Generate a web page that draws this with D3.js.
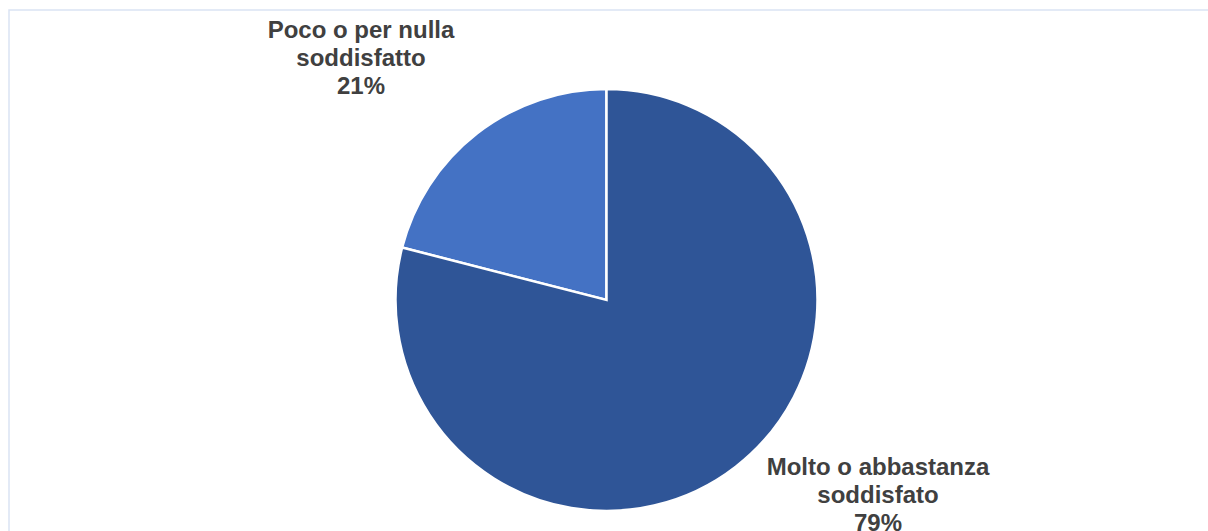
<!DOCTYPE html>
<html>
<head>
<meta charset="utf-8">
<script src="https://cdn.jsdelivr.net/npm/d3@7/dist/d3.min.js"></script>
<style>
  html, body { margin: 0; padding: 0; background: #fff; }
  svg { display: block; }
</style>
</head>
<body>
<svg id="chart" width="1208" height="531"></svg>
<script>
// Satisfaction shares
const categories = ["Poco o per nulla soddisfatto", "Molto o abbastanza soddisfato"];
const values = [21, 79];
const labelLines = [
  ["Poco o per nulla", "soddisfatto", "21%"],
  ["Molto o abbastanza", "soddisfato", "79%"]
];
const colors = ["#4472C4", "#2F5597"];

const svg = d3.select("#chart");
const W = 1208, H = 531;

// chart area frame
svg.append("rect")
  .attr("x", 9).attr("y", 10)
  .attr("width", W + 20).attr("height", H + 20)
  .attr("fill", "none")
  .attr("stroke", "#dae3f3")
  .attr("stroke-width", 1.5);

const cx = 606.5, cy = 300, r = 211;

// first slice runs counter-clockwise from 12 o'clock
const pie = d3.pie().sort(null).value(d => d)
  .startAngle(0).endAngle(-2 * Math.PI);
const arcs = pie(values);
const arc = d3.arc().innerRadius(0).outerRadius(r);

const g = svg.append("g").attr("transform", `translate(${cx},${cy})`);
g.selectAll("path")
  .data(arcs)
  .join("path")
  .attr("d", arc)
  .attr("fill", (d, i) => colors[i])
  .attr("stroke", "#ffffff")
  .attr("stroke-width", 2.5)
  .attr("stroke-linejoin", "miter");

// outside labels
const labelPos = [
  { x: 361, y: 37.5 },
  { x: 878, y: 475 }
];
const lineH = 28;
labelLines.forEach((lines, i) => {
  const t = svg.append("text")
    .attr("text-anchor", "middle")
    .attr("font-family", "'Liberation Sans', Arial, sans-serif")
    .attr("font-weight", "bold")
    .attr("font-size", 24)
    .attr("fill", "#404040");
  lines.forEach((s, j) => {
    t.append("tspan")
      .attr("x", labelPos[i].x)
      .attr("y", labelPos[i].y + j * lineH)
      .text(s);
  });
});
</script>
</body>
</html>
